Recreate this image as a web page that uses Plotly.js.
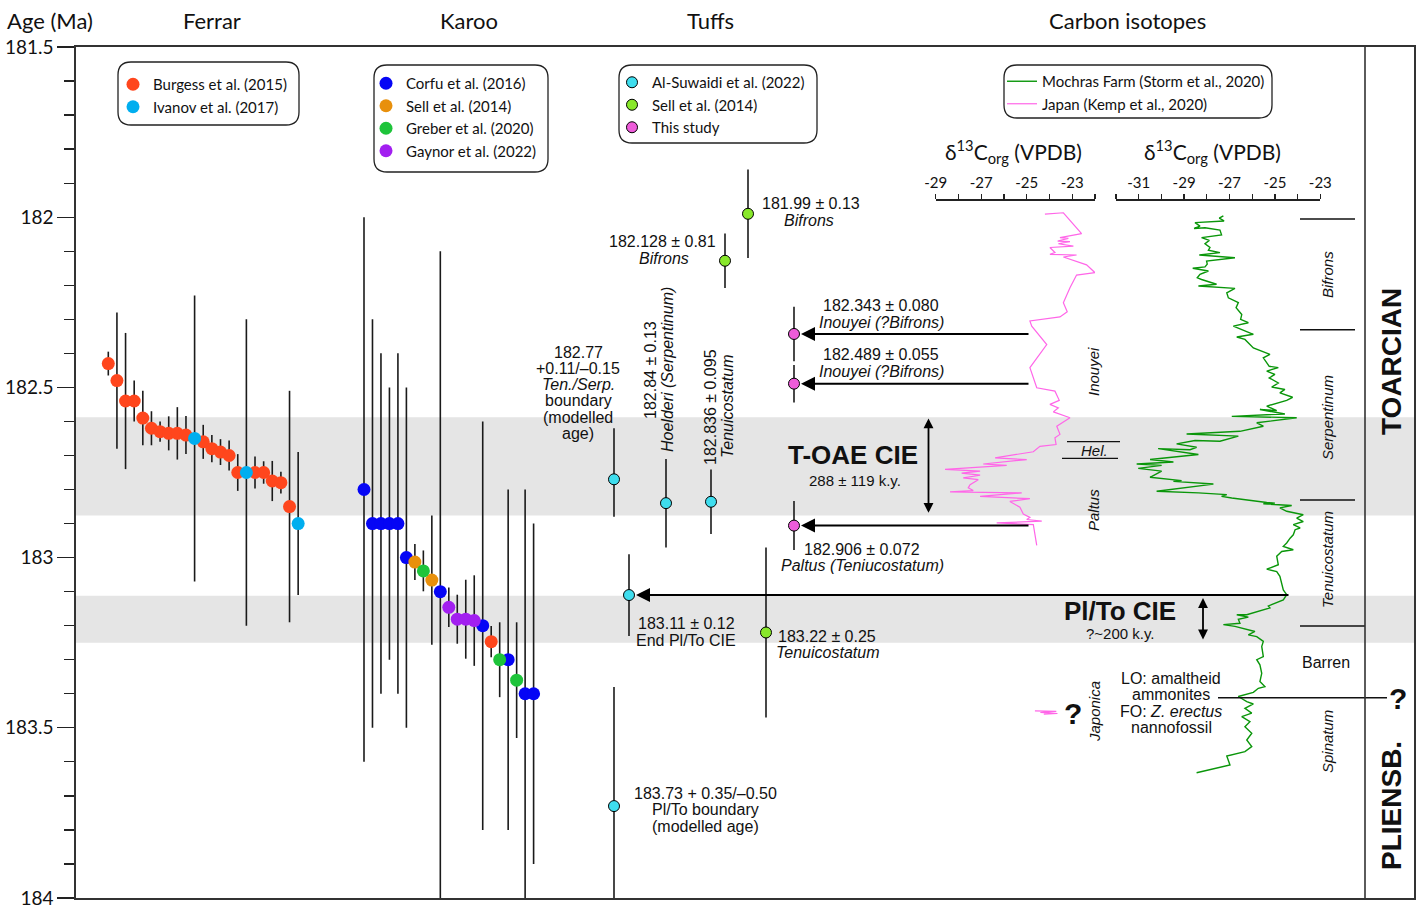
<!DOCTYPE html>
<html><head><meta charset="utf-8">
<script src="https://cdn.plot.ly/plotly-3.0.1.min.js"></script>
<style>html,body{margin:0;padding:0;background:#fff}#chart{width:1419px;height:908px}</style>
</head><body><div id="chart"></div>
<script>
// ---------------- DATA ----------------
const ageTicks = [181.5, 182, 182.5, 183, 183.5, 184];
const ageTickText = ['181.5', '182', '182.5', '183', '183.5', '184'];

// Ferrar (U-Pb ages, Ma) with 2-sigma half-lengths as plotted
const ferrarAge = [182.43, 182.48, 182.54, 182.54, 182.59, 182.62, 182.63, 182.635, 182.635, 182.64, 182.65, 182.66, 182.68, 182.69, 182.70, 182.75, 182.75, 182.75, 182.75, 182.775, 182.78, 182.85, 182.90];
const ferrarErr = [0.035, 0.20, 0.20, 0.06, 0.08, 0.05, 0.03, 0.05, 0.077, 0.056, 0.42, 0.05, 0.04, 0.038, 0.044, 0.054, 0.45, 0.047, 0.033, 0.059, 0.032, 0.34, 0.21];
const ferrarSrc = ['Burgess','Burgess','Burgess','Burgess','Burgess','Burgess','Burgess','Burgess','Burgess','Burgess','Ivanov','Burgess','Burgess','Burgess','Burgess','Burgess','Ivanov','Burgess','Burgess','Burgess','Burgess','Burgess','Ivanov'];

// Karoo
const karooAge = [182.80, 182.90, 182.90, 182.90, 182.90, 183.00, 183.013, 183.039, 183.066, 183.10, 183.146, 183.181, 183.181, 183.185, 183.20, 183.247, 183.30, 183.30, 183.36, 183.40, 183.40];
const karooErr = [0.80, 0.60, 0.50, 0.40, 0.50, 0.50, 0.053, 0.06, 0.19, 1.00, 0.058, 0.072, 0.116, 0.133, 0.60, 0.046, 0.11, 0.50, 0.17, 0.60, 0.50];
const karooSrc = ['Corfu','Corfu','Corfu','Corfu','Corfu','Corfu','SellK','Greber','SellK','Corfu','Gaynor','Gaynor','Gaynor','Gaynor','Corfu','Burgess','Greber','Corfu','Greber','Corfu','Corfu'];

// Tuffs
const alSuwaidiAge = [182.77, 182.84, 182.836, 183.11, 183.73];
const alSuwaidiErrYoung = [0.15, 0.13, 0.095, 0.12, 0.35];
const alSuwaidiErrOld = [0.11, 0.13, 0.095, 0.12, 0.50];
const sellTAge = [181.99, 182.128, 183.22];
const sellTErr = [0.13, 0.08, 0.25];
const thisStudyAge = [182.343, 182.489, 182.906];
const thisStudyErr = [0.080, 0.055, 0.072];

// Carbon isotopes: Japan (Kemp et al., 2020)
const japanAge = [181.991,181.987,182.048,182.060,182.062,182.070,182.072,182.078,182.085,182.089,182.104,182.109,182.111,182.117,182.140,182.163,182.170,182.207,182.251,182.278,182.293,182.305,182.320,182.374,182.442,182.501,182.511,182.538,182.550,182.560,182.572,182.589,182.614,182.638,182.648,182.668,182.673,182.689,182.707,182.712,182.725,182.729,182.741,182.746,182.752,182.758,182.766,182.771,182.786,182.795,182.803,182.807,182.810,182.820,182.827,182.835,182.852,182.872,182.882,182.888,182.893,182.898,182.903,182.964];
const japanD13C = [-24.20,-23.39,-22.59,-23.54,-23.17,-23.64,-23.10,-23.61,-22.95,-23.98,-23.76,-23.98,-22.81,-23.39,-22.37,-22.00,-22.81,-23.10,-23.39,-23.22,-23.54,-24.86,-24.78,-24.12,-24.86,-24.56,-23.76,-23.57,-23.98,-23.61,-23.83,-23.10,-23.68,-23.54,-23.76,-23.71,-24.42,-24.71,-26.39,-25.00,-26.91,-25.88,-28.59,-27.05,-27.86,-27.05,-27.79,-27.13,-27.49,-27.57,-27.35,-28.37,-25.22,-27.05,-24.86,-25.74,-25.30,-25.15,-24.86,-25.00,-24.34,-26.32,-24.71,-24.56];
const japonicaAge = [183.450, 183.452, 183.455, 183.458, 183.460];
const japonicaD13C = [-24.64, -23.70, -24.40, -23.65, -24.25];

// Carbon isotopes: Mochras Farm (Storm et al., 2020)
const mochrasAge = [181.996,182.003,182.011,182.016,182.026,182.033,182.031,182.038,182.052,182.060,182.068,182.078,182.089,182.097,182.104,182.111,182.119,182.129,182.138,182.146,182.150,182.158,182.168,182.178,182.183,182.192,182.197,182.202,182.209,182.222,182.237,182.251,182.266,182.286,182.300,182.310,182.320,182.344,182.352,182.359,182.384,182.403,182.413,182.438,182.442,182.452,182.462,182.472,182.487,182.499,182.506,182.516,182.529,182.538,182.552,182.555,182.568,182.565,182.578,182.585,182.589,182.604,182.614,182.629,182.637,182.643,182.658,182.656,182.666,182.676,182.683,182.680,182.697,182.712,182.719,182.725,182.729,182.738,182.746,182.764,182.774,182.776,182.784,182.793,182.805,182.810,182.815,182.820,182.825,182.838,182.840,182.842,182.847,182.854,182.864,182.874,182.884,182.894,182.903,182.913,182.918,182.933,182.943,182.957,182.967,182.977,182.982,182.996,183.021,183.034,183.041,183.055,183.075,183.095,183.109,183.124,183.142,183.148,183.168,183.168,183.175,183.181,183.193,183.197,183.202,183.217,183.227,183.232,183.246,183.261,183.291,183.300,183.315,183.340,183.364,183.379,183.384,183.396,183.408,183.423,183.430,183.443,183.457,183.467,183.482,183.497,183.516,183.536,183.555,183.570,183.583,183.609,183.632];
const mochrasD13C = [-27.27,-27.45,-27.24,-28.52,-28.30,-28.56,-28.08,-27.42,-27.35,-28.23,-27.89,-28.08,-27.86,-27.93,-27.42,-28.33,-26.76,-28.01,-27.98,-28.08,-28.62,-27.93,-28.30,-28.42,-28.23,-27.79,-27.57,-28.37,-26.76,-27.12,-27.05,-26.61,-26.71,-26.46,-26.51,-26.17,-26.83,-25.95,-26.68,-26.32,-25.95,-25.22,-25.51,-25.25,-24.85,-25.36,-25.00,-25.25,-24.85,-25.14,-24.56,-24.78,-24.22,-24.48,-25.22,-25.36,-24.92,-25.66,-24.56,-26.90,-24.04,-25.80,-25.51,-26.54,-28.89,-26.61,-27.42,-28.52,-29.33,-28.45,-28.74,-30.14,-28.37,-30.50,-29.47,-31.09,-29.99,-31.02,-29.99,-30.50,-29.11,-29.47,-27.71,-28.81,-30.21,-28.37,-27.12,-27.35,-26.90,-25.36,-25.00,-25.51,-24.26,-24.78,-24.48,-23.75,-24.04,-23.75,-24.19,-23.89,-24.11,-24.19,-24.33,-24.48,-24.63,-24.19,-24.70,-24.92,-24.85,-25.36,-24.92,-24.78,-24.70,-24.63,-24.48,-24.63,-25.29,-25.22,-26.24,-26.68,-26.17,-26.61,-26.54,-27.27,-26.76,-25.88,-26.17,-25.80,-25.51,-25.58,-25.51,-25.80,-25.66,-25.58,-25.66,-25.44,-25.73,-25.95,-26.61,-26.24,-25.95,-26.32,-26.02,-26.46,-26.10,-26.32,-26.02,-26.24,-26.02,-26.32,-27.12,-26.98,-28.45];

const japanTicks = [-29, -27, -25, -23];
const japanTickText = ['-29', '-27', '-25', '-23'];
const mochrasTicks = [-31, -29, -27, -25, -23];
const mochrasTickText = ['-31', '-29', '-27', '-25', '-23'];

// Interval bands (Ma)
const toaeBand = [182.588, 182.876];
const pltoBand = [183.112, 183.250];
// Ammonite zone boundaries (Ma)
const zoneBounds = [182.005, 182.331, 182.831];
const zoneBoundBase = 183.201;
const markerLevel = 183.412;

// ---------------- LAYOUT HELPERS ----------------
const L = 76, R = 1414, T = 47, B = 898;
const A = py => 181.5 + (py - T) * 2.5 / (B - T);   // page row -> age
const PX = px => (px - L) / (R - L);
const PY = py => (B - py) / (B - T);
const SANS = 'Lato, "Noto Sans", sans-serif';
const ARIAL = '"Liberation Sans", Arial, sans-serif';
const INK = '#111';

const COLORS = {
  Burgess: '#FF461D', Ivanov: '#00AEEF', Corfu: '#0505F5', SellK: '#E8900C',
  Greber: '#1EC43A', Gaynor: '#A21FF0', AlSuwaidi: '#3EDDEE', SellT: '#88E82A',
  ThisStudy: '#EE5CDA', Mochras: '#0A960A', Japan: '#FF66E8'
};
const NAMES = {
  Burgess: 'Burgess et al. (2015)', Ivanov: 'Ivanov et al. (2017)', Corfu: 'Corfu et al. (2016)',
  SellK: 'Sell et al. (2014)', Greber: 'Greber et al. (2020)', Gaynor: 'Gaynor et al. (2022)',
  AlSuwaidi: 'Al-Suwaidi et al. (2022)', SellT: 'Sell et al. (2014)', ThisStudy: 'This study'
};

function errBar(up, down) {
  return {type: 'data', symmetric: false, array: down, arrayminus: up, color: '#1a1a1a', thickness: 1.6, width: 0};
}

const traces = [];
// Columns with evenly spaced samples
function column(ages, errs, srcs, x0, dx, order, legendId, shown) {
  order.forEach(src => {
    const xs = [], ys = [], es = [];
    ages.forEach((a, i) => { if (srcs[i] === src) { xs.push(x0 + i * dx); ys.push(a); es.push(errs[i]); } });
    if (!xs.length) return;
    traces.push({
      type: 'scatter', mode: 'markers', x: xs, y: ys, name: NAMES[src],
      legend: legendId, showlegend: shown.includes(src), cliponaxis: true,
      marker: {size: 13, color: COLORS[src]}, error_y: errBar(es, es), hoverinfo: 'skip'
    });
  });
}
column(ferrarAge, ferrarErr, ferrarSrc, 108.3, 8.63, ['Burgess', 'Ivanov'], 'legend', ['Burgess', 'Ivanov']);
column(karooAge, karooErr, karooSrc, 364, 8.48, ['Corfu', 'SellK', 'Greber', 'Gaynor', 'Burgess'], 'legend2', ['Corfu', 'SellK', 'Greber', 'Gaynor']);

// Tuff samples: horizontal slots chosen for readability
const alSuwaidiSlot = [614, 666, 711, 629, 614];
const sellTSlot = [748, 725, 766];
const thisStudySlot = [794, 794, 794];
function tuff(key, slots, ages, up, down) {
  traces.push({
    type: 'scatter', mode: 'markers', x: slots, y: ages, name: NAMES[key], legend: 'legend3',
    marker: {size: 11, color: COLORS[key], line: {color: '#000', width: 1}},
    error_y: errBar(up, down), hoverinfo: 'skip'
  });
}
tuff('AlSuwaidi', alSuwaidiSlot, alSuwaidiAge, alSuwaidiErrYoung, alSuwaidiErrOld);
tuff('SellT', sellTSlot, sellTAge, sellTErr, sellTErr);
tuff('ThisStudy', thisStudySlot, thisStudyAge, thisStudyErr, thisStudyErr);

// Carbon isotope curves
traces.push({type: 'scatter', mode: 'lines', x: mochrasD13C, y: mochrasAge, xaxis: 'x3', yaxis: 'y',
  name: 'Mochras Farm (Storm et al., 2020)', legend: 'legend4', line: {color: COLORS.Mochras, width: 1.4}, hoverinfo: 'skip'});
traces.push({type: 'scatter', mode: 'lines', x: japanD13C, y: japanAge, xaxis: 'x2', yaxis: 'y',
  name: 'Japan (Kemp et al., 2020)', legend: 'legend4', line: {color: COLORS.Japan, width: 1.2}, hoverinfo: 'skip'});
traces.push({type: 'scatter', mode: 'lines', x: japonicaD13C, y: japonicaAge, xaxis: 'x2', yaxis: 'y',
  showlegend: false, line: {color: COLORS.Japan, width: 1.2}, hoverinfo: 'skip'});

// ---------------- ANNOTATIONS ----------------
const ann = [];
function txt(px, py, text, o = {}) {
  const a = {xref: 'x', yref: 'y', x: px, y: A(py), text: text, showarrow: false,
    xanchor: o.xanchor || 'center', yanchor: 'middle', textangle: o.angle || 0,
    font: {family: o.family || ARIAL, size: o.size || 16, color: INK}};
  if (o.paper) { a.xref = 'paper'; a.yref = 'paper'; a.x = PX(px); a.y = PY(py); }
  ann.push(a);
}
function lines(px, py0, dy, arr, o) { arr.forEach((t, i) => txt(px, py0 + i * dy, t, o)); }

// Headers (outside the plotting area -> paper coordinates)
txt(5, 20, 'Age (Ma)', {xanchor: 'left', family: SANS, size: 22, paper: true});
txt(212, 20, 'Ferrar', {family: SANS, size: 22, paper: true});
txt(469, 20, 'Karoo', {family: SANS, size: 22, paper: true});
txt(710, 20, 'Tuffs', {family: SANS, size: 22, paper: true});
txt(1127, 20, 'Carbon isotopes', {family: SANS, size: 22, paper: true});
txt(1013, 151, 'δ<sup>13</sup>C<sub>org</sub> (VPDB)', {family: SANS, size: 21});
txt(1212, 151, 'δ<sup>13</sup>C<sub>org</sub> (VPDB)', {family: SANS, size: 21});

// Tuff labels
txt(760, 203, '181.99 ± 0.13', {xanchor: 'left'});
txt(809, 220, '<i>Bifrons</i>');
txt(718, 241, '182.128 ± 0.81', {xanchor: 'right'});
txt(664, 258, '<i>Bifrons</i>');
txt(881, 305, '182.343 ± 0.080');
txt(881, 322, '<i>Inouyei (?Bifrons)</i>');
txt(881, 354, '182.489 ± 0.055');
txt(881, 371, '<i>Inouyei (?Bifrons)</i>');
txt(862, 549, '182.906 ± 0.072');
txt(862, 565, '<i>Paltus (Teniucostatum)</i>');
txt(686, 623, '183.11 ± 0.12');
txt(686, 640, 'End Pl/To CIE');
txt(827, 636, '183.22 ± 0.25');
txt(827, 652, '<i>Tenuicostatum</i>');
lines(705, 793, 16.7, ['183.73 + 0.35/–0.50', 'Pl/To boundary', '(modelled age)'], {});
lines(578, 352, 16.3, ['182.77', '+0.11/–0.15', '<i>Ten./Serp.</i>', 'boundary', '(modelled', 'age)'], {});
txt(650, 370, '182.84 ± 0.13', {angle: -90});
txt(667, 370, '<i>Hoelderi (Serpentinum)</i>', {angle: -90});
txt(710, 407, '182.836 ± 0.095', {angle: -90});
txt(727, 407, '<i>Tenuicostatum</i>', {angle: -90});

txt(853, 455, '<b>T-OAE CIE</b>', {size: 26});
txt(855, 480, '288 ± 119 k.y.', {size: 15});
txt(1120, 611, '<b>Pl/To CIE</b>', {size: 26});
txt(1120, 633, '?~200 k.y.', {size: 15});

// Zone labels (carbon isotope panel)
txt(1093, 372, '<i>Inouyei</i>', {angle: -90, size: 15});
txt(1094, 450, '<i>Hel.</i>', {size: 15});
txt(1093, 510, '<i>Paltus</i>', {angle: -90, size: 15});
txt(1094, 712, '<i>Japonica</i>', {angle: -90, size: 15});
txt(1073, 713, '<b>?</b>', {size: 30});
txt(1327, 275, '<i>Bifrons</i>', {angle: -90, size: 15});
txt(1327, 418, '<i>Serpentinum</i>', {angle: -90, size: 15});
txt(1327, 560, '<i>Tenuicostatum</i>', {angle: -90, size: 15});
txt(1326, 662, 'Barren', {size: 16});
txt(1327, 742, '<i>Spinatum</i>', {angle: -90, size: 15});
lines(1171, 678, 16.5, ['LO: amaltheid', 'ammonites', 'FO: <i>Z. erectus</i>', 'nannofossil'], {});
txt(1398, 698, '<b>?</b>', {size: 30});
txt(1391, 362, '<b>TOARCIAN</b>', {angle: -90, size: 28});
txt(1391, 806, '<b>PLIENSB.</b>', {angle: -90, size: 28});

// Arrows from the curves to the dated tuffs
function arrow(xTip, yTip, xTail, yTail, o = {}) {
  ann.push({xref: 'x', yref: 'y', axref: 'x', ayref: 'y', x: xTip, y: yTip, ax: xTail, ay: yTail,
    text: '', showarrow: true, arrowhead: 2, arrowsize: o.size || 1.4, arrowwidth: o.width || 2,
    arrowcolor: '#000', arrowside: o.side || 'end', standoff: 0, startstandoff: 0});
}
arrow(801, thisStudyAge[0], 1030, thisStudyAge[0]);
arrow(801, thisStudyAge[1], 1030, thisStudyAge[1]);
arrow(801, thisStudyAge[2], 1030, thisStudyAge[2]);
arrow(636, alSuwaidiAge[3], 1290, alSuwaidiAge[3]);
arrow(928.5, toaeBand[0] + 0.003, 928.5, toaeBand[1] - 0.003, {side: 'end+start', size: 1.1, width: 1.8});
arrow(1203, A(598), 1203, A(641), {side: 'end+start', size: 1.1, width: 1.8});

// ---------------- SHAPES ----------------
const shapes = [];
function band(r) {
  shapes.push({type: 'rect', xref: 'paper', yref: 'y', x0: 0, x1: 1, y0: r[0], y1: r[1],
    fillcolor: '#e5e5e5', line: {width: 0}, layer: 'below'});
}
band(toaeBand); band(pltoBand);
function hline(x0, x1, y, w) {
  shapes.push({type: 'line', xref: 'x', yref: 'y', x0: x0, x1: x1, y0: y, y1: y, line: {color: INK, width: w || 1.5}});
}
zoneBounds.forEach(z => hline(1300, 1355, z));
hline(1300, 1365, zoneBoundBase);
hline(1218, 1387, markerLevel);
hline(1067, 1120, A(441.7), 1.3);
hline(1062, 1118, A(458.3), 1.3);
shapes.push({type: 'line', xref: 'x', yref: 'paper', x0: 1365, x1: 1365, y0: 0, y1: 1, line: {color: '#333', width: 1.6}});

function roundBox(x0, py0, x1, py1, r) {
  const y0 = A(py0), y1 = A(py1), ry = A(py0 + r) - y0;
  const p = `M${x0 + r},${y0} L${x1 - r},${y0} Q${x1},${y0} ${x1},${y0 + ry} L${x1},${y1 - ry} Q${x1},${y1} ${x1 - r},${y1} ` +
            `L${x0 + r},${y1} Q${x0},${y1} ${x0},${y1 - ry} L${x0},${y0 + ry} Q${x0},${y0} ${x0 + r},${y0} Z`;
  shapes.push({type: 'path', xref: 'x', yref: 'y', path: p, line: {color: '#222', width: 1.3}, fillcolor: 'rgba(0,0,0,0)'});
}
roundBox(118, 62, 299, 125, 13);
roundBox(374, 65, 548, 172, 13);
roundBox(619, 65, 817, 143, 13);
roundBox(1004, 65, 1272, 118, 13);

// ---------------- LAYOUT ----------------
const legendBase = {bgcolor: 'rgba(0,0,0,0)', borderwidth: 0, xanchor: 'left', yanchor: 'top',
  font: {family: SANS, size: 15, color: INK}, tracegroupgap: 0, itemclick: false, itemdoubleclick: false};
const carbonAxis = {anchor: 'free', position: PY(199.3), side: 'top', showline: true, linecolor: '#222', linewidth: 1.4,
  ticks: 'outside', ticklen: 5, tickwidth: 1.3, tickcolor: '#222', tickmode: 'array', showgrid: false, zeroline: false,
  tickfont: {family: SANS, size: 15, color: INK}, fixedrange: true};

const layout = {
  width: 1419, height: 908,
  margin: {l: L, r: 1419 - R, t: T, b: 908 - B},
  paper_bgcolor: '#fff', plot_bgcolor: 'rgba(0,0,0,0)',
  font: {family: SANS, color: INK},
  showlegend: true,
  xaxis: {range: [L, R], domain: [0, 1], showticklabels: false, ticks: '', showgrid: false, zeroline: false,
    showline: true, mirror: true, linecolor: '#333', linewidth: 1.6, fixedrange: true},
  xaxis2: Object.assign({}, carbonAxis, {domain: [PX(935.7), PX(1095)], range: [-29, -22], tickvals: japanTicks, ticktext: japanTickText,
    minor: {tickmode: 'linear', tick0: -29, dtick: 1, ticks: 'outside', ticklen: 5, tickwidth: 1.3, tickcolor: '#222', showgrid: false}}),
  xaxis3: Object.assign({}, carbonAxis, {domain: [PX(1116), PX(1320.3)], range: [-32, -23], tickvals: mochrasTicks, ticktext: mochrasTickText,
    minor: {tickmode: 'linear', tick0: -32, dtick: 1, ticks: 'outside', ticklen: 5, tickwidth: 1.3, tickcolor: '#222', showgrid: false}}),
  yaxis: {range: [184, 181.5], tickmode: 'array', tickvals: ageTicks, ticktext: ageTickText,
    ticks: 'outside', ticklen: 17, tickwidth: 1.4, tickcolor: '#222', ticklabeloverflow: 'allow',
    minor: {tickmode: 'linear', tick0: 181.5, dtick: 0.1, ticks: 'outside', ticklen: 10, tickwidth: 1.3, tickcolor: '#222'},
    showline: true, mirror: true, linecolor: '#333', linewidth: 1.6, showgrid: false, zeroline: false,
    tickfont: {family: SANS, size: 19, color: INK}, fixedrange: true},
  legend: Object.assign({}, legendBase, {x: PX(113), y: PY(68)}),
  legend2: Object.assign({}, legendBase, {x: PX(366), y: PY(67)}),
  legend3: Object.assign({}, legendBase, {x: PX(612), y: PY(66)}),
  legend4: Object.assign({}, legendBase, {x: PX(1002), y: PY(65)}),
  shapes: shapes,
  annotations: ann
};

Plotly.newPlot('chart', traces, layout, {displayModeBar: false, staticPlot: true});
</script></body></html>
